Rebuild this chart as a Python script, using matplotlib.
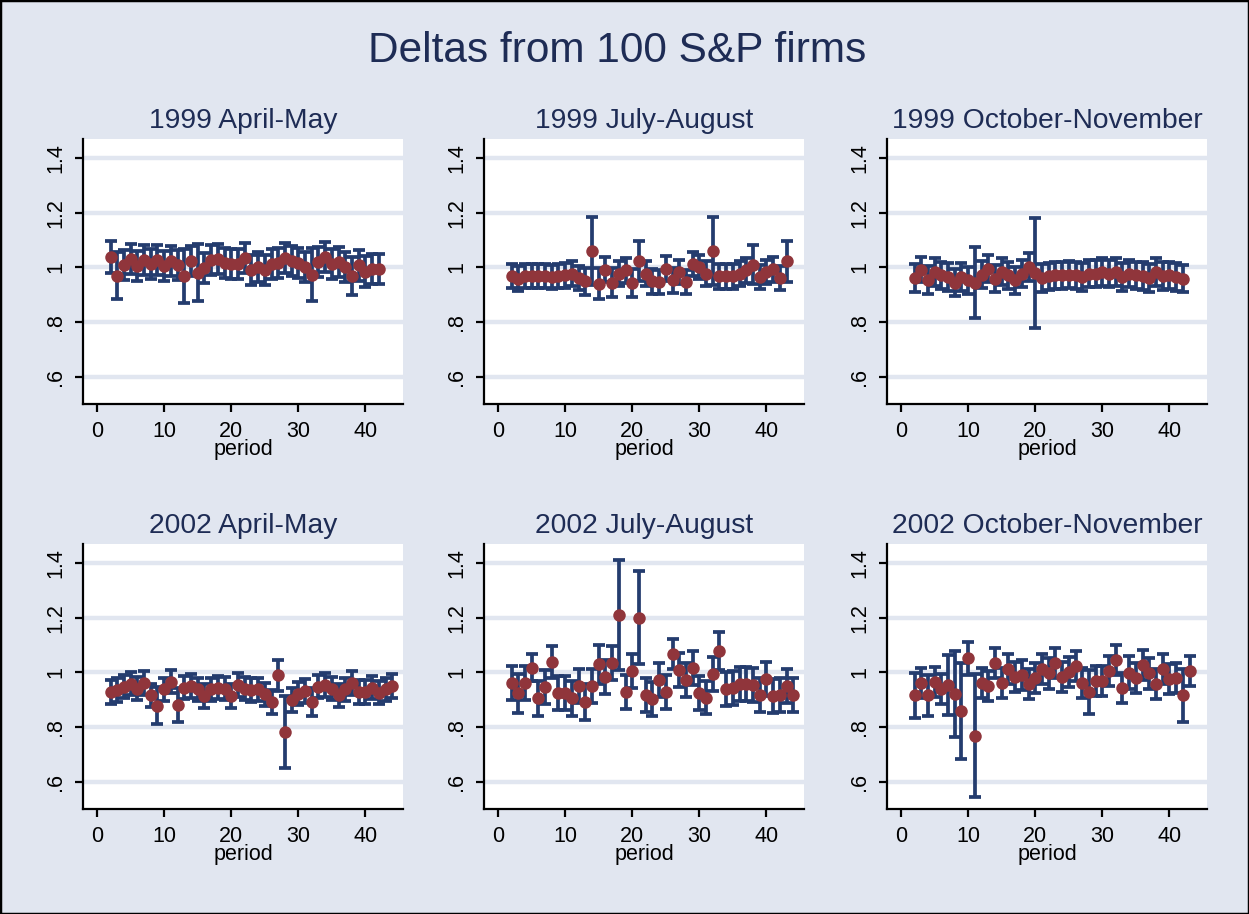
import matplotlib
matplotlib.use("Agg")
import matplotlib.pyplot as plt
from matplotlib.patches import Rectangle
import numpy as np

plt.rcParams['font.family'] = ['Liberation Sans', 'DejaVu Sans']

# colours (Stata s2color look)
BG = "#E1E6F0"
TITLE_COL = "#1E2C55"
BAR_COL = "#243C6E"
DOT_COL = "#90353B"

main_title = "Deltas from 100 S&P firms"
panel_titles = ["1999 April-May", "1999 July-August", "1999 October-November",
                "2002 April-May", "2002 July-August", "2002 October-November"]

# first period of each panel (periods run consecutively from here)
first_period = [2, 2, 2, 2, 2, 2]

# point estimates
delta_99_apr = [1.038, 0.969, 1.010, 1.032, 1.005, 1.028, 1.013, 1.028, 1.005, 1.025,
                1.010, 0.969, 1.025, 0.981, 0.998, 1.028, 1.032, 1.016, 1.013, 1.013,
                1.035, 0.989, 1.001, 0.992, 1.013, 1.017, 1.035, 1.022, 1.017, 1.001,
                0.974, 1.020, 1.038, 1.013, 1.020, 1.001, 0.969, 1.007, 0.985, 0.995,
                0.995]
delta_99_jul = [0.968, 0.959, 0.968, 0.968, 0.968, 0.968, 0.965, 0.968, 0.971, 0.977,
                0.961, 0.949, 1.059, 0.941, 0.992, 0.944, 0.977, 0.989, 0.943, 1.025,
                0.977, 0.949, 0.947, 0.995, 0.953, 0.983, 0.947, 1.013, 1.001, 0.977,
                1.059, 0.967, 0.967, 0.967, 0.977, 0.989, 1.010, 0.965, 0.983, 0.993,
                0.961, 1.023]
delta_99_oct = [0.961, 0.992, 0.953, 0.983, 0.971, 0.965, 0.944, 0.965, 0.953, 0.944,
                0.973, 0.995, 0.959, 0.985, 0.971, 0.953, 0.977, 1.001, 0.980, 0.961,
                0.967, 0.971, 0.971, 0.973, 0.971, 0.965, 0.977, 0.977, 0.983, 0.977,
                0.983, 0.965, 0.977, 0.971, 0.969, 0.961, 0.983, 0.969, 0.971, 0.965,
                0.959]
delta_02_apr = [0.928, 0.936, 0.948, 0.959, 0.941, 0.962, 0.916, 0.878, 0.938, 0.966,
                0.880, 0.944, 0.950, 0.938, 0.914, 0.938, 0.944, 0.941, 0.914, 0.953,
                0.941, 0.935, 0.938, 0.920, 0.892, 0.989, 0.783, 0.899, 0.922, 0.932,
                0.892, 0.948, 0.953, 0.941, 0.916, 0.938, 0.962, 0.928, 0.928, 0.944,
                0.926, 0.938, 0.950]
delta_02_jul = [0.960, 0.924, 0.960, 1.017, 0.905, 0.947, 1.038, 0.924, 0.924, 0.905,
                0.950, 0.892, 0.950, 1.029, 0.983, 1.033, 1.211, 0.928, 1.005, 1.200,
                0.916, 0.902, 0.972, 0.928, 1.067, 1.008, 0.972, 1.017, 0.924, 0.908,
                0.993, 1.078, 0.938, 0.944, 0.956, 0.956, 0.953, 0.916, 0.975, 0.914,
                0.916, 0.950, 0.916]
delta_02_oct = [0.916, 0.960, 0.916, 0.966, 0.938, 0.953, 0.920, 0.859, 1.051, 0.768,
                0.962, 0.950, 1.033, 0.962, 1.011, 0.984, 0.989, 0.956, 0.981, 1.011,
                0.996, 1.035, 0.984, 1.001, 1.023, 0.960, 0.928, 0.968, 0.968, 1.005,
                1.045, 0.942, 0.999, 0.981, 1.028, 0.996, 0.956, 1.011, 0.977, 0.981,
                0.916, 1.005]

# half widths of the confidence intervals
ci_99_apr = [0.060, 0.086, 0.055, 0.055, 0.055, 0.055, 0.055, 0.055, 0.055, 0.055,
             0.055, 0.100, 0.055, 0.105, 0.055, 0.055, 0.055, 0.055, 0.055, 0.055,
             0.055, 0.055, 0.055, 0.055, 0.055, 0.055, 0.055, 0.055, 0.055, 0.055,
             0.098, 0.055, 0.055, 0.055, 0.055, 0.055, 0.070, 0.055, 0.055, 0.055,
             0.055]
ci_99_jul = [0.045, 0.045, 0.045, 0.045, 0.045, 0.045, 0.045, 0.045, 0.045, 0.045,
             0.045, 0.050, 0.124, 0.055, 0.045, 0.052, 0.045, 0.045, 0.050, 0.073,
             0.045, 0.045, 0.045, 0.045, 0.045, 0.045, 0.045, 0.045, 0.045, 0.045,
             0.124, 0.045, 0.045, 0.045, 0.045, 0.045, 0.072, 0.045, 0.045, 0.045,
             0.045, 0.075]
ci_99_oct = [0.050, 0.046, 0.052, 0.050, 0.050, 0.050, 0.050, 0.050, 0.050, 0.130,
             0.050, 0.050, 0.050, 0.050, 0.050, 0.050, 0.050, 0.050, 0.200, 0.050,
             0.050, 0.050, 0.050, 0.050, 0.050, 0.050, 0.050, 0.050, 0.050, 0.050,
             0.050, 0.050, 0.050, 0.050, 0.050, 0.050, 0.050, 0.050, 0.050, 0.050,
             0.050]
ci_02_apr = [0.043, 0.043, 0.043, 0.043, 0.043, 0.043, 0.043, 0.067, 0.043, 0.043,
             0.062, 0.043, 0.043, 0.043, 0.043, 0.043, 0.043, 0.043, 0.043, 0.043,
             0.043, 0.043, 0.043, 0.043, 0.045, 0.056, 0.132, 0.043, 0.043, 0.043,
             0.050, 0.043, 0.043, 0.043, 0.043, 0.043, 0.043, 0.043, 0.043, 0.043,
             0.043, 0.043, 0.043]
ci_02_jul = [0.062, 0.071, 0.062, 0.050, 0.064, 0.062, 0.058, 0.062, 0.062, 0.064,
             0.062, 0.065, 0.062, 0.073, 0.062, 0.062, 0.202, 0.062, 0.062, 0.171,
             0.062, 0.062, 0.062, 0.062, 0.055, 0.062, 0.062, 0.062, 0.062, 0.062,
             0.062, 0.069, 0.062, 0.062, 0.062, 0.062, 0.062, 0.062, 0.062, 0.062,
             0.062, 0.062, 0.062]
ci_02_oct = [0.083, 0.055, 0.076, 0.055, 0.055, 0.110, 0.158, 0.177, 0.060, 0.225,
             0.055, 0.055, 0.055, 0.055, 0.055, 0.055, 0.055, 0.055, 0.055, 0.055,
             0.055, 0.055, 0.055, 0.055, 0.055, 0.055, 0.081, 0.055, 0.055, 0.055,
             0.055, 0.055, 0.060, 0.055, 0.055, 0.055, 0.055, 0.055, 0.055, 0.055,
             0.097, 0.055]

deltas = [delta_99_apr, delta_99_jul, delta_99_oct, delta_02_apr, delta_02_jul, delta_02_oct]
cis = [ci_99_apr, ci_99_jul, ci_99_oct, ci_02_apr, ci_02_jul, ci_02_oct]

y_ticks = [0.6, 0.8, 1.0, 1.2, 1.4]
y_ticklabels = [".6", ".8", "1", "1.2", "1.4"]
x_ticks = [0, 10, 20, 30, 40]

fig = plt.figure(figsize=(12.49, 9.14), dpi=100, facecolor=BG)

W, H = 1249.0, 914.0
col_left = [83, 484, 887]
row_top = [139, 544]
ax_w, ax_h = 320, 265

for i in range(6):
    r, c = divmod(i, 3)
    ax = fig.add_axes([col_left[c] / W, 1 - (row_top[r] + ax_h) / H, ax_w / W, ax_h / H])
    ax.set_facecolor("white")

    vals = np.array(deltas[i])
    hw = np.array(cis[i])
    per = np.arange(first_period[i], first_period[i] + len(vals))

    ax.errorbar(per, vals, yerr=hw, fmt="none", ecolor=BAR_COL, elinewidth=2.7,
                capsize=4.3, capthick=2.7, zorder=3)
    ax.plot(per, vals, "o", color=DOT_COL, markersize=9, markeredgewidth=0, zorder=4)

    ax.set_xlim(-2.1, 45.6)
    ax.set_ylim(0.5, 1.47)
    ax.set_yticks(y_ticks)
    ax.set_yticklabels(y_ticklabels, rotation=90, va="center")
    ax.set_xticks(x_ticks)
    ax.yaxis.grid(True, color=BG, linewidth=3.2)
    ax.set_axisbelow(True)

    for s in ["top", "right"]:
        ax.spines[s].set_visible(False)
    for s in ["left", "bottom"]:
        ax.spines[s].set_linewidth(1.6)
    ax.tick_params(direction="out", length=6, width=1.6, labelsize=15.5)
    ax.tick_params(axis="x", pad=6)
    ax.tick_params(axis="y", pad=6)

    ax.set_xlabel("period", fontsize=15.5, labelpad=-2)
    ax.set_title(panel_titles[i], fontsize=20.3, color=TITLE_COL, pad=8)

fig.text(0.494, 1 - 51 / H, main_title, ha="center", va="center",
         fontsize=30.5, color=TITLE_COL)

fig.patches.append(Rectangle((0, 0), 1, 1, transform=fig.transFigure, fill=False,
                             edgecolor="black", linewidth=2.5))

fig.savefig("out.png", dpi=100, facecolor=BG)
